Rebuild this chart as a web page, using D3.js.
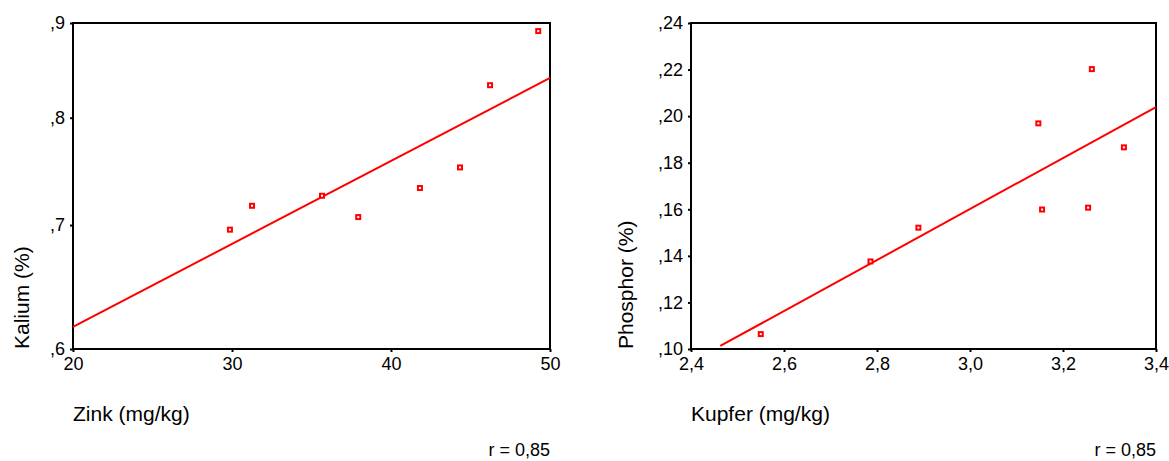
<!DOCTYPE html>
<html>
<head>
<meta charset="utf-8">
<script src="https://cdn.jsdelivr.net/npm/d3@7"></script>
<style>
  html, body { margin: 0; padding: 0; background: #fff; }
  svg { display: block; font-family: "Liberation Sans", Arial, sans-serif; }
</style>
</head>
<body>
<svg id="chart" width="1169" height="461"></svg>
<script>
// ---- Data ----
// Left panel: Zink vs Kalium
const zinkValues   = [29.87, 31.26, 35.66, 37.94, 41.82, 44.34, 46.23, 49.26];
const kaliumValues = [0.696, 0.717, 0.726, 0.707, 0.733, 0.752, 0.833, 0.891];
const kaliumFitX   = [20, 50];
const kaliumFitY   = [0.6167, 0.8406];
const zinkTicks    = [20, 30, 40, 50];
const kaliumTicks  = [0.6, 0.7, 0.8, 0.9];

// Right panel: Kupfer vs Phosphor
const kupferValues   = [2.550, 2.786, 2.889, 3.147, 3.155, 3.254, 3.262, 3.331];
const phosphorValues = [0.1064, 0.1376, 0.1521, 0.1969, 0.1599, 0.1607, 0.2202, 0.1866];
const phosphorFitX   = [2.463, 3.4];
const phosphorFitY   = [0.1013, 0.2039];
const kupferTicks    = [2.4, 2.6, 2.8, 3.0, 3.2, 3.4];
const phosphorTicks  = [0.10, 0.12, 0.14, 0.16, 0.18, 0.20, 0.22, 0.24];

const rLabel = "r = 0,85";

// ---- Formatting (German decimal comma, no leading zero) ----
const fmt = p => d => d3.format("." + p + "f")(d).replace(/^0\./, ".").replace(".", ",");

const svg = d3.select("#chart");
const RED = "#ff0000";

function panel(opts) {
  const { x0, x1, y0, y1, xScaleType, yScaleType, xDomain, yDomain,
          xs, ys, fitX, fitY, xTicks, yTicks, xFmt, yFmt, xTitle, yTitle, yTitleX } = opts;
  const x = (xScaleType === "log" ? d3.scaleLog() : d3.scaleLinear()).domain(xDomain).range([x0, x1]);
  const y = (yScaleType === "log" ? d3.scaleLog() : d3.scaleLinear()).domain(yDomain).range([y1, y0]);
  const g = svg.append("g");

  // axes
  const ax = g.append("g").attr("transform", `translate(0,${y1})`)
    .call(d3.axisBottom(x).tickValues(xTicks).tickFormat(xFmt).tickSize(3).tickSizeOuter(0).tickPadding(5));
  const ay = g.append("g").attr("transform", `translate(${x0},0)`)
    .call(d3.axisLeft(y).tickValues(yTicks).tickFormat(yFmt).tickSize(3).tickSizeOuter(0).tickPadding(5));
  [ax, ay].forEach(a => {
    a.select(".domain").remove();
    a.selectAll(".tick line").attr("stroke", "#000").attr("stroke-width", 2);
    a.selectAll("text").attr("font-size", 18).attr("fill", "#000")
      .attr("font-family", '"Liberation Sans", Arial, sans-serif');
  });

  // frame
  g.append("rect").attr("x", x0).attr("y", y0)
    .attr("width", x1 - x0).attr("height", y1 - y0)
    .attr("fill", "none").attr("stroke", "#000").attr("stroke-width", 2);

  // fit line
  const fit = fitX.map((d, i) => [d, fitY[i]]);
  g.append("path").datum(fit)
    .attr("d", d3.line().x(d => x(d[0])).y(d => y(d[1])))
    .attr("fill", "none").attr("stroke", RED).attr("stroke-width", 2);

  // points
  const pts = xs.map((d, i) => [d, ys[i]]);
  g.selectAll("rect.pt").data(pts).join("rect").attr("class", "pt")
    .attr("x", d => x(d[0]) - 2).attr("y", d => y(d[1]) - 2)
    .attr("width", 4).attr("height", 4)
    .attr("fill", "#fff").attr("stroke", RED).attr("stroke-width", 2);

  // titles
  g.append("text").attr("x", x0).attr("y", 421)
    .attr("font-size", 21).attr("fill", "#000").text(xTitle);
  g.append("text").attr("transform", `translate(${yTitleX},${y1}) rotate(-90)`)
    .attr("font-size", 21).attr("fill", "#000").attr("text-anchor", "start").text(yTitle);
  g.append("text").attr("x", x1).attr("y", 456)
    .attr("font-size", 18).attr("fill", "#000").attr("text-anchor", "end").text(rLabel);
}

panel({
  x0: 73, x1: 550, y0: 23, y1: 349,
  xScaleType: "linear", yScaleType: "log",
  xDomain: [20, 50], yDomain: [0.6, 0.9],
  xs: zinkValues, ys: kaliumValues, fitX: kaliumFitX, fitY: kaliumFitY,
  xTicks: zinkTicks, yTicks: kaliumTicks,
  xFmt: d3.format("d"), yFmt: fmt(1),
  xTitle: "Zink (mg/kg)", yTitle: "Kalium (%)", yTitleX: 29
});

panel({
  x0: 691, x1: 1156, y0: 23, y1: 349,
  xScaleType: "linear", yScaleType: "linear",
  xDomain: [2.4, 3.4], yDomain: [0.10, 0.24],
  xs: kupferValues, ys: phosphorValues, fitX: phosphorFitX, fitY: phosphorFitY,
  xTicks: kupferTicks, yTicks: phosphorTicks,
  xFmt: fmt(1), yFmt: fmt(2),
  xTitle: "Kupfer (mg/kg)", yTitle: "Phosphor (%)", yTitleX: 633
});
</script>
</body>
</html>
